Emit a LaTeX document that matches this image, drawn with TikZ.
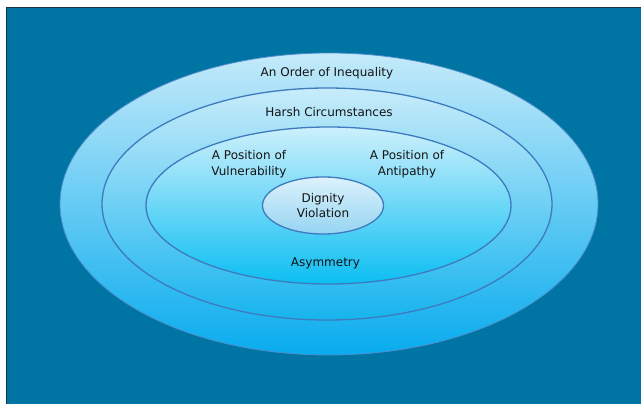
\documentclass[tikz,border=0pt]{standalone}
\usepackage{fontspec}
\setmainfont{DejaVu Sans}
\usetikzlibrary{shapes.geometric}
\definecolor{bg}{RGB}{0,116,162}
\definecolor{bgline}{RGB}{25,50,70}
\definecolor{ringline}{RGB}{62,122,190}
\definecolor{outerline}{RGB}{80,140,205}
\definecolor{outertop}{RGB}{196,234,250}
\definecolor{outerbot}{RGB}{8,172,238}
\definecolor{sectop}{RGB}{200,236,250}
\definecolor{secbot}{RGB}{22,180,238}
\definecolor{thirdtop}{RGB}{204,240,252}
\definecolor{thirdbot}{RGB}{12,190,242}
\definecolor{innertop}{RGB}{220,242,252}
\definecolor{innerbot}{RGB}{150,212,242}
\definecolor{txt}{RGB}{20,20,20}
\begin{document}
\begin{tikzpicture}[x=1pt,y=-1pt,
  ring/.style={ellipse, draw=ringline, line width=1.3pt, inner sep=0pt},
  lbl/.style={font=\fontsize{12}{16}\selectfont, text=txt, align=center, inner sep=0pt}]
\useasboundingbox (0,0) rectangle (641,404);
\fill[white] (0,0) rectangle (641,404);
\draw[fill=bg, draw=bgline, line width=1pt] (6.5,7.5) rectangle (646,410);
\node[ring, draw=outerline, line width=0.8pt, minimum width=538pt, minimum height=302pt, top color=outertop, bottom color=outerbot] (outer) at (329,204) {};
\node[ring, minimum width=450pt, minimum height=232pt, top color=sectop, bottom color=secbot] (second) at (327,204) {};
\node[ring, minimum width=365pt, minimum height=157pt, top color=thirdtop, bottom color=thirdbot] (third) at (328.5,205.5) {};
\node[ring, minimum width=121pt, minimum height=57pt, top color=innertop, bottom color=innerbot] (inner) at (323,205.5) {};
\node[lbl] (order) at (327,73) {An Order of Inequality};
\node[lbl] (harsh) at (329,112) {Harsh Circumstances};
\node[lbl] (vuln) at (249,164) {A Position of\\Vulnerability};
\node[lbl] (anti) at (407,164) {A Position of\\Antipathy};
\node[lbl, font=\fontsize{12}{15}\selectfont] (dig) at (323,206) {Dignity\\Violation};
\node[lbl] (asym) at (325.5,263) {Asymmetry};
\end{tikzpicture}
\end{document}
